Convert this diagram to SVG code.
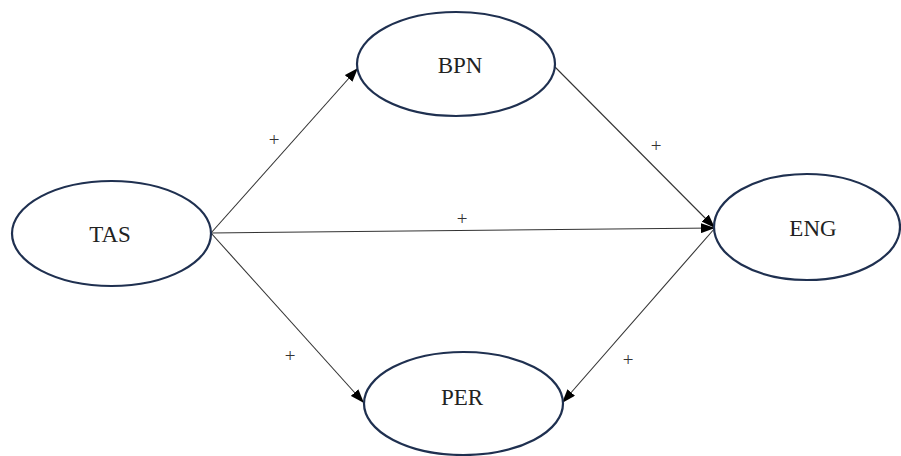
<svg xmlns="http://www.w3.org/2000/svg" width="901" height="456" viewBox="0 0 901 456">
<style>
.node ellipse{fill:#fff;stroke:#1f3050;stroke-width:2.2}
.node text{font-family:"Liberation Serif",serif;font-size:23px;fill:#222;text-anchor:middle}
.conn line{stroke:#333;stroke-width:1.1;marker-end:url(#ah)}
.lbl{font-family:"Liberation Serif",serif;font-size:19px;fill:#333;text-anchor:middle}
</style>
<defs>
<marker id="ah" viewBox="0 0 14 10" refX="14" refY="5" markerWidth="14" markerHeight="10" markerUnits="userSpaceOnUse" orient="auto">
<path d="M0,0 L14,5 L0,10 Z" fill="#000"/>
</marker>
</defs>
<rect width="901" height="456" fill="#fff"/>
<g class="conn">
<line x1="211" y1="233" x2="358" y2="68"/>
<line x1="211" y1="233" x2="715" y2="228"/>
<line x1="211" y1="233" x2="364" y2="403"/>
<line x1="555" y1="67" x2="715" y2="228"/>
<line x1="715" y1="228" x2="562" y2="403"/>
</g>
<g id="TAS" class="node"><ellipse cx="111.5" cy="233.5" rx="99.5" ry="52.5"/><text x="110" y="242">TAS</text></g>
<g id="BPN" class="node"><ellipse cx="456" cy="64" rx="99" ry="52"/><text x="460" y="73">BPN</text></g>
<g id="PER" class="node"><ellipse cx="463.5" cy="403.5" rx="99.5" ry="51.5"/><text x="462" y="405">PER</text></g>
<g id="ENG" class="node"><ellipse cx="807" cy="227" rx="93" ry="53"/><text x="813" y="236">ENG</text></g>
<g>
<text class="lbl" x="274" y="146">+</text>
<text class="lbl" x="656" y="152">+</text>
<text class="lbl" x="462" y="225">+</text>
<text class="lbl" x="290" y="362">+</text>
<text class="lbl" x="628" y="366">+</text>
</g>
</svg>
